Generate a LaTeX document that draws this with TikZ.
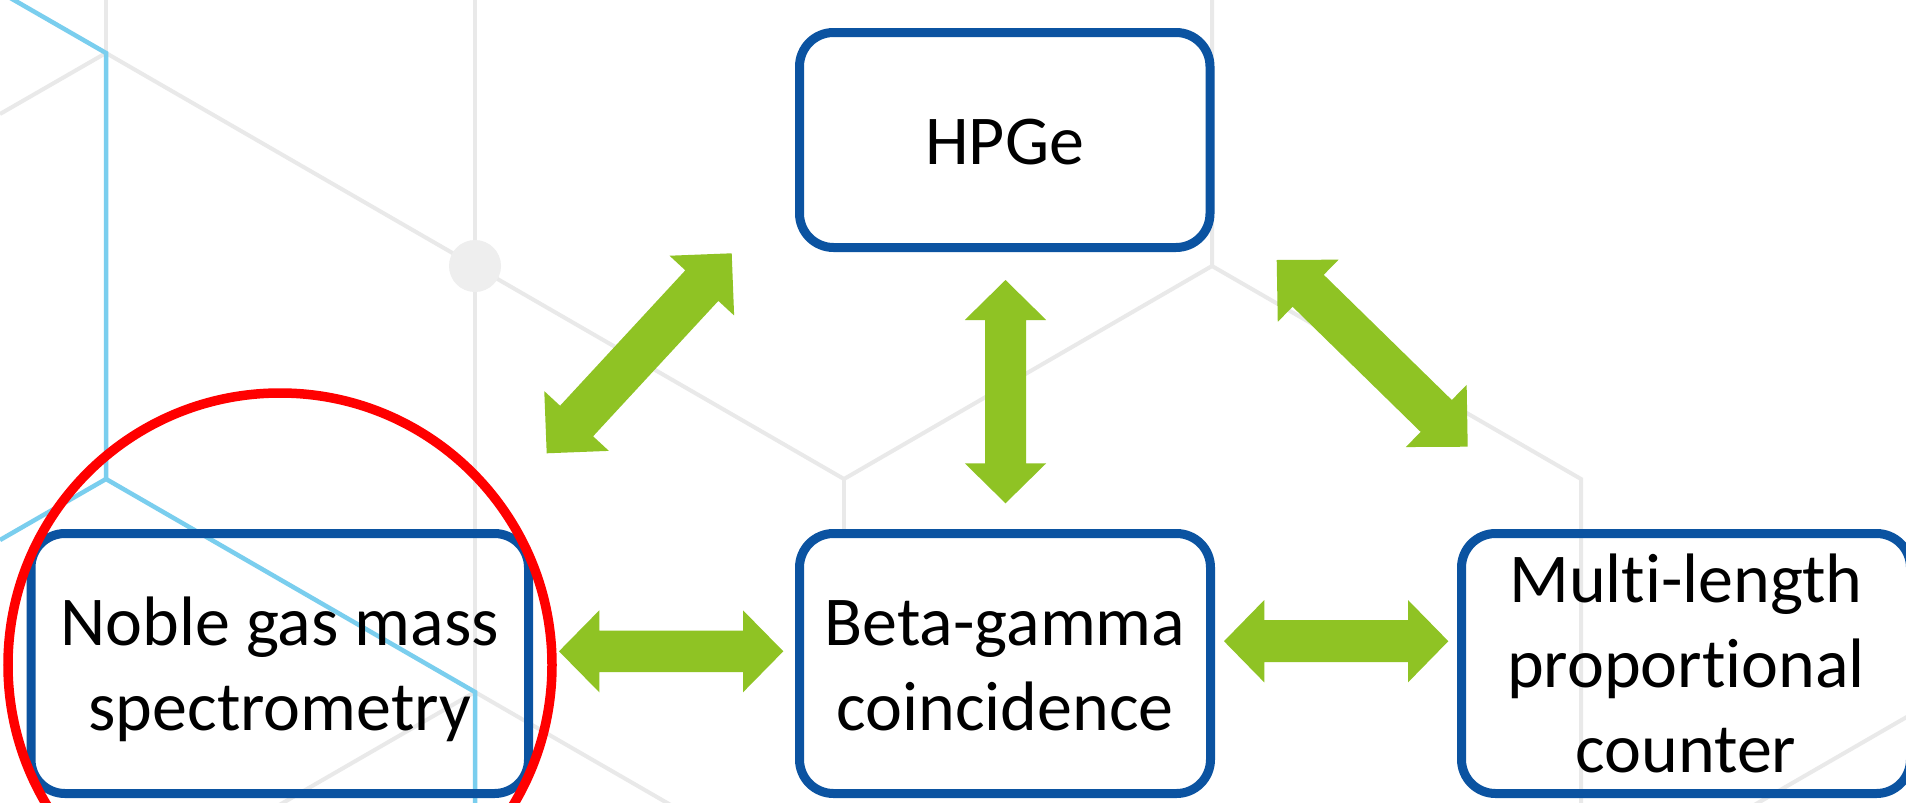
\documentclass[tikz,border=0pt]{standalone}
\usepackage{fontspec}
\setmainfont{Carlito}[Ligatures={NoCommon,NoDiscretionary,NoContextual}]
\usetikzlibrary{calc}
\definecolor{boxblue}{RGB}{11,83,161}
\definecolor{arrgreen}{RGB}{143,195,36}
\definecolor{hexgray}{RGB}{233,233,233}
\definecolor{hexblue}{RGB}{122,206,238}
\definecolor{dotgray}{RGB}{238,238,238}
\definecolor{ringred}{RGB}{255,0,0}
\newcommand\tstr{\rule{0pt}{55pt}}
\newcommand\bstr{\rule[-7pt]{0pt}{7pt}}
% block double arrow between two tips: #1,#2 tips; #3 head length; #4 head half width; #5 shaft half width
\newcommand\grnarrow[5]{%
  \coordinate (#1#2p) at ($(#1)!#3!(#2)$);
  \coordinate (#1#2q) at ($(#2)!#3!(#1)$);
  \fill[arrgreen] (#1)
    -- ($(#1#2p)!#4!90:(#2)$)
    -- ($(#1#2p)!#5!90:(#2)$)
    -- ($(#1#2q)!#5!-90:(#1)$)
    -- ($(#1#2q)!#4!-90:(#1)$)
    -- (#2)
    -- ($(#1#2q)!#4!90:(#1)$)
    -- ($(#1#2q)!#5!90:(#1)$)
    -- ($(#1#2p)!#5!-90:(#2)$)
    -- ($(#1#2p)!#4!-90:(#2)$)
    -- cycle;}
\tikzset{
  box/.style={draw=boxblue, line width=9pt, rounded corners=34pt, inner sep=0pt,
    align=center, text=black, font=\fontsize{70pt}{85pt}\selectfont},
  bgline/.style={draw=hexgray, line width=4pt},
  bgblue/.style={draw=hexblue, line width=4.5pt},
  ring/.style={draw=ringred, line width=9.5pt}
}
\begin{document}
\begin{tikzpicture}[x=1pt,y=-1pt]
\useasboundingbox (0,0) rectangle (1906,803);
\clip (0,0) rectangle (1906,803);
\fill[white] (0,0) rectangle (1906,803);

% background hexagon pattern
\coordinate (v1) at (106,53);
\coordinate (v2) at (475,266);
\coordinate (v3) at (844,479);
\coordinate (v4) at (1212,266);
\coordinate (v5) at (1581,479);
\coordinate (v6) at (106,479);
\coordinate (v7) at (475,692);
\coordinate (v8) at (1950,692);
\draw[bgline] (106,0) -- (v1);
\draw[bgline] (v1) -- (0,114);
\draw[bgline] (v1) -- (v2) -- (v3);
\draw[bgline] (475,0) -- (475,803);
\draw[bgline] (v3) -- (v4);
\draw[bgline] (v3) -- (844,535);
\draw[bgline] (1212,0) -- (v4) -- (v5) -- (1581,803);
\draw[bgline] (v7) -- (844,905);
\draw[bgline] (v7) -- (106,905);
\draw[bgline] (v8) -- (1581,905);
\draw[bgblue] (0,-8) -- (v1) -- (v6) -- (0,540);
\draw[bgblue] (v6) -- (v7) -- (475,803);
\fill[dotgray] (v2) circle[radius=26];

% boxes
\node[box, minimum width=410.5pt, minimum height=215pt] (hpge) at (1004.75,140) {\tstr\smash{HPGe}\bstr};
\node[box, minimum width=497.5pt, minimum height=260pt] (noble) at (279.75,663.5)
  {\tstr\smash{Noble gas mass}\\\smash{spectrometry}\bstr};
\node[box, minimum width=411pt, minimum height=260pt] (beta) at (1005,663.5)
  {\tstr\smash{Beta-gamma}\\\smash{coincidence}\bstr};
\node[box, minimum width=449pt, minimum height=260pt] (multi) at (1686,663.5)
  {\tstr\smash{Multi-length}\\\smash{proportional}\\\smash{counter}\bstr};

% arrow tips
\coordinate (nbA) at (546.7,453.3);
\coordinate (hpA) at (731.7,253.3);
\coordinate (hpB) at (1005.5,280);
\coordinate (btB) at (1005.5,503.3);
\coordinate (hpC) at (1276.7,260);
\coordinate (muC) at (1467.7,446.7);
\coordinate (nbD) at (559,651.3);
\coordinate (btD) at (783.3,651.3);
\coordinate (btE) at (1224,641.2);
\coordinate (muE) at (1448.3,641.2);

\grnarrow{nbA}{hpA}{44pt}{44pt}{22.5pt}
\grnarrow{hpB}{btB}{40pt}{40.7pt}{20.5pt}
\grnarrow{hpC}{muC}{44pt}{43.5pt}{22.3pt}
\grnarrow{nbD}{btD}{40.3pt}{41pt}{20.7pt}
\grnarrow{btE}{muE}{40.3pt}{41.2pt}{21pt}

% highlight ring
\draw[ring] (280,665) circle[radius=272];
\end{tikzpicture}
\end{document}
